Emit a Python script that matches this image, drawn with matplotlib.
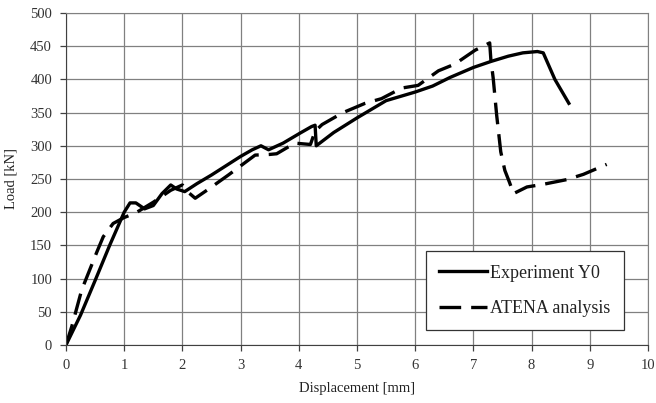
import matplotlib
matplotlib.use('Agg')
import matplotlib.pyplot as plt

# Experiment Y0 (solid line) - displacement [mm], load [kN]
exp_x = [0, 0.25, 0.5, 0.75, 1.0, 1.1, 1.2, 1.35, 1.5, 1.65, 1.8, 1.9, 2.04, 2.25, 2.5,
         2.75, 3.0, 3.2, 3.35, 3.48, 3.73, 4.02, 4.22, 4.28, 4.3, 4.45, 4.6, 5.0, 5.5,
         6.0, 6.3, 6.6, 7.0, 7.3, 7.6, 7.85, 8.1, 8.2, 8.4, 8.64]
exp_y = [0, 45, 97, 150, 200, 214, 214, 205, 210, 228, 241, 235, 231, 243, 256,
         270, 284, 294, 300, 294, 304, 319, 329, 331, 300, 310, 320, 342, 368,
         381, 390, 403, 418, 427, 435, 440, 442, 440, 400, 364]

# ATENA analysis (dashed line)
atena_x = [0, 0.1, 0.27, 0.53, 0.64, 0.81, 1.0, 1.2, 1.5, 1.8, 2.0, 2.1, 2.22, 2.47,
           2.79, 3.02, 3.25, 3.5, 3.62, 3.93, 4.2, 4.28, 4.4, 4.76, 5.14, 5.42, 5.77,
           6.05, 6.4, 6.68, 7.03, 7.28, 7.3, 7.34, 7.4, 7.47, 7.54, 7.62, 7.69, 7.92,
           8.2, 8.6, 8.89, 9.29]
atena_y = [0, 28, 83, 140, 163, 183, 192, 199, 215, 233, 241, 230, 221, 236,
           256, 271, 286, 287, 288, 304, 302, 322, 332, 350, 364, 371, 387,
           391, 413, 423, 444, 455, 430, 402, 346, 291, 263, 245, 228, 238,
           242, 249, 257, 272]

plt.rcParams['font.family'] = ['Liberation Serif', 'DejaVu Serif']

fig = plt.figure(figsize=(6.56, 4.03), dpi=100)
ax = fig.add_axes([0.1006, 0.144, 0.8872, 0.8237])

ax.plot(exp_x, exp_y, color='black', lw=2.4, solid_joinstyle='round',
        label='Experiment Y0')
ax.plot(atena_x, atena_y, color='black', lw=2.4, linestyle=(0, (6.5, 3)),
        label='ATENA analysis')

ax.set_xlim(0, 10)
ax.set_ylim(0, 500)
ax.set_xticks(range(0, 11))
ax.set_yticks(range(0, 501, 50))
ax.grid(True, color='#808080', lw=0.9)
ax.set_axisbelow(True)
for s in ['top', 'right']:
    ax.spines[s].set_color('#808080')
for s in ['left', 'bottom']:
    ax.spines[s].set_color('#404040')
ax.tick_params(direction='out', length=4, width=0.9, colors='#404040',
               labelsize=10.5, labelcolor='#333333', pad=6)

ax.set_xlabel('Displacement [mm]', fontsize=10.5, color='#222222', labelpad=7)
ax.set_ylabel('Load [kN]', fontsize=10.5, color='#222222', labelpad=9)

leg = ax.legend(loc='lower right', bbox_to_anchor=(0.958, 0.044), fontsize=13,
                fancybox=False, framealpha=1, edgecolor='#333333',
                handlelength=2.65, handletextpad=0.15, labelspacing=1.0,
                borderpad=0.75, borderaxespad=0)
leg.get_frame().set_linewidth(0.9)
for t in leg.get_texts():
    t.set_color('#222222')

fig.savefig('out.png', dpi=100)
